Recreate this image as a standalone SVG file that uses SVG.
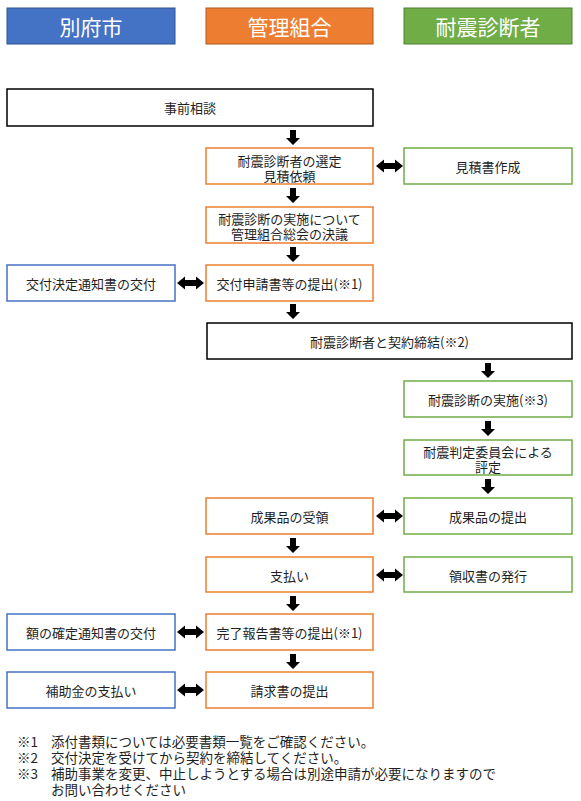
<svg xmlns="http://www.w3.org/2000/svg" width="581" height="801" viewBox="0 0 581 801">
<style>
text,tspan{font-family:"Noto Sans CJK JP","Noto Sans",sans-serif;fill:#1f1f1f;font-size:13px;text-anchor:middle;dominant-baseline:central}
text.hd{fill:#fff;font-size:21px}
text.note,.note tspan{font-size:13.5px;text-anchor:start}
.b{fill:#fff;stroke-width:1.5}
.org{stroke:#ED7D31}
.blu{stroke:#4472C4}
.grn{stroke:#70AD47}
.blk{stroke:#000}
.arr{fill:#000}
</style>
<defs>
<path id="down" d="M-3,0 H3 V8 H7 L0,15 L-7,8 H-3 Z"/>
<path id="dbl" d="M0,0 L8,-6.5 V-3 H19 V-6.5 L27,0 L19,6.5 V3 H8 V6.5 Z"/>
</defs>
<g id="header-city"><rect x="7" y="8" width="168" height="36" fill="#4472C4" stroke="#2F528F" stroke-width="1"/><text class="hd" x="91" y="26">別府市</text></g>
<g id="header-kumiai"><rect x="206" y="8" width="167" height="36" fill="#ED7D31" stroke="#AE5A21" stroke-width="1"/><text class="hd" x="289.5" y="26">管理組合</text></g>
<g id="header-shindan"><rect x="404" y="8" width="168" height="36" fill="#70AD47" stroke="#507E32" stroke-width="1"/><text class="hd" x="488" y="26">耐震診断者</text></g>

<g id="n1"><rect class="b blk" x="7" y="89" width="366" height="37"/><text x="190" y="107.5">事前相談</text></g>
<g id="n2"><rect class="b org" x="206" y="148" width="167" height="36"/><text x="289.5" y="159"><tspan x="289.5" y="159.5">耐震診断者の選定</tspan><tspan x="289.5" y="174.5">見積依頼</tspan></text></g>
<g id="n3"><rect class="b grn" x="404" y="148" width="168" height="36"/><text x="488" y="166">見積書作成</text></g>
<g id="n4"><rect class="b org" x="206" y="207" width="167" height="36"/><text x="289.5" y="218"><tspan x="289.5" y="218">耐震診断の実施について</tspan><tspan x="289.5" y="233">管理組合総会の決議</tspan></text></g>
<g id="n5"><rect class="b blu" x="7" y="265" width="168" height="36"/><text x="91" y="283">交付決定通知書の交付</text></g>
<g id="n6"><rect class="b org" x="206" y="265" width="167" height="36"/><text x="289.5" y="283">交付申請書等の提出(※1)</text></g>
<g id="n7"><rect class="b blk" x="207" y="323" width="365" height="36"/><text x="389.5" y="341">耐震診断者と契約締結(※2)</text></g>
<g id="n8"><rect class="b grn" x="404" y="381" width="168" height="36"/><text x="488" y="399">耐震診断の実施(※3)</text></g>
<g id="n9"><rect class="b grn" x="404" y="440" width="168" height="35"/><text x="488" y="451"><tspan x="488" y="451">耐震判定委員会による</tspan><tspan x="488" y="466">評定</tspan></text></g>
<g id="n10"><rect class="b org" x="206" y="498" width="167" height="36"/><text x="289.5" y="516">成果品の受領</text></g>
<g id="n11"><rect class="b grn" x="404" y="498" width="168" height="36"/><text x="488" y="516">成果品の提出</text></g>
<g id="n12"><rect class="b org" x="206" y="557" width="167" height="35"/><text x="289.5" y="575">支払い</text></g>
<g id="n13"><rect class="b grn" x="404" y="557" width="168" height="35"/><text x="488" y="575">領収書の発行</text></g>
<g id="n14"><rect class="b blu" x="7" y="614" width="168" height="36"/><text x="91" y="632">額の確定通知書の交付</text></g>
<g id="n15"><rect class="b org" x="206" y="614" width="167" height="36"/><text x="289.5" y="632">完了報告書等の提出(※1)</text></g>
<g id="n16"><rect class="b blu" x="7" y="672" width="168" height="36"/><text x="91" y="690">補助金の支払い</text></g>
<g id="n17"><rect class="b org" x="206" y="672" width="167" height="36"/><text x="289.5" y="690">請求書の提出</text></g>

<g id="connectors" class="arr">
<use href="#down" x="293" y="130"/>
<use href="#down" x="293" y="188"/>
<use href="#down" x="293" y="247"/>
<use href="#down" x="293" y="304"/>
<use href="#down" x="488" y="363"/>
<use href="#down" x="488" y="421"/>
<use href="#down" x="488" y="479"/>
<use href="#down" x="293" y="538"/>
<use href="#down" x="293" y="596"/>
<use href="#down" x="293" y="654"/>
<use href="#dbl" x="376" y="166"/>
<use href="#dbl" x="177" y="283"/>
<use href="#dbl" x="376" y="516"/>
<use href="#dbl" x="376" y="575"/>
<use href="#dbl" x="177" y="632"/>
<use href="#dbl" x="177" y="690"/>
</g>

<g id="notes">
<text class="note" x="17" y="741"><tspan x="17" y="741">※1</tspan><tspan x="51" y="741">添付書類については必要書類一覧をご確認ください。</tspan><tspan x="17" y="757">※2</tspan><tspan x="51" y="757">交付決定を受けてから契約を締結してください。</tspan><tspan x="17" y="773">※3</tspan><tspan x="51" y="773">補助事業を変更、中止しようとする場合は別途申請が必要になりますので</tspan><tspan x="51" y="789">お問い合わせください</tspan></text>
</g>
</svg>
